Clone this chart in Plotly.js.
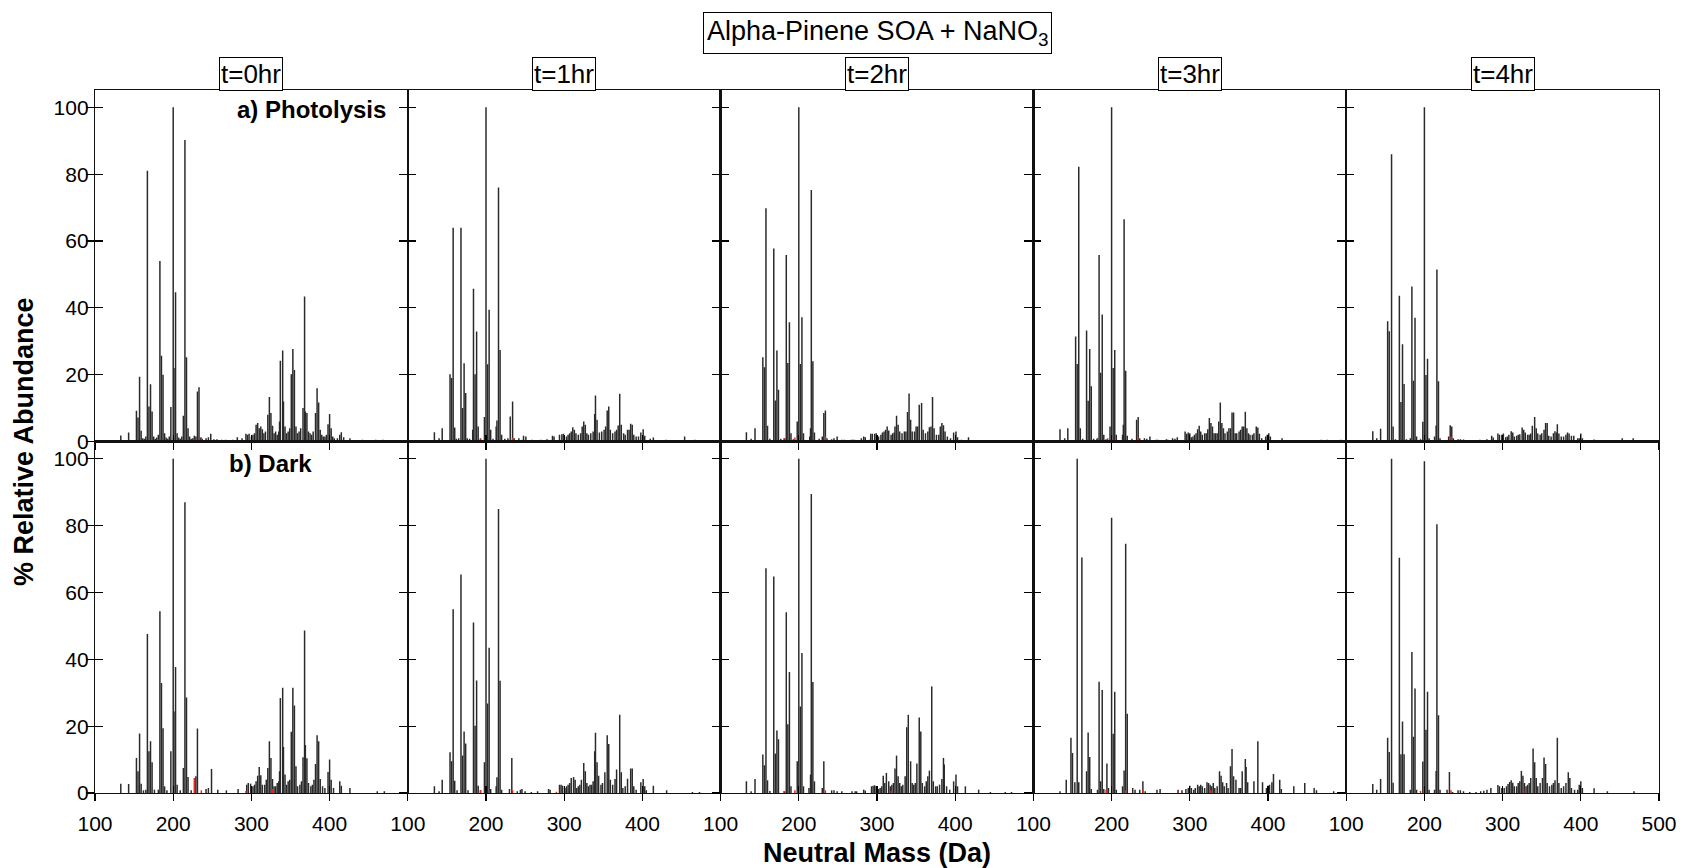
<!DOCTYPE html>
<html><head><meta charset="utf-8">
<script src="https://cdn.plot.ly/plotly-3.0.1.min.js"></script>
<style>html,body{margin:0;padding:0;background:#fff}#chart{width:1681px;height:868px}</style>
</head><body><div id="chart"></div>
<script>
const chartTitle = 'Alpha-Pinene SOA + NaNO<sub>3</sub>';
const timeLabels = ['t=0hr','t=1hr','t=2hr','t=3hr','t=4hr'];
const rowLabels = ['a) Photolysis','b) Dark'];
const xTitle = 'Neutral Mass (Da)';
const yTitle = '% Relative Abundance';
const yTickVals = [0,20,40,60,80,100];

// [neutral mass (Da), % relative abundance]
const photolysis_t0 = [[133,1.8],[143,2.7],[153,9.2],[155,7.2],[157,19.4],[159,3.2],[161,1],[163,0.8],[165,1.5],[167,81],[169,10.5],[171,17.1],[173,9],[175,1.5],[177,0.8],[179,1.2],[181,2],[183,54],[185,25.7],[187,20],[189,2.5],[191,1.2],[193,0.8],[195,1.5],[197,10.3],[200,100],[201,22],[203,44.7],[205,2.5],[207,1.2],[209,0.8],[211,1.5],[213,7.7],[215,90.2],[217,25.2],[219,4],[221,1.5],[223,0.8],[225,1],[227,1.7],[229,1.5],[231,15],[233,16.2],[235,1.2],[237,0.8],[242,1],[245,1.3],[248,2.3],[252,0.7],[256,0.7],[262,0.5],[267,0.5],[276,0.5],[282,1.3],[288,1],[293,2.3],[295,2],[297,2.3],[300,1.5],[302,2],[304,2.5],[306,5],[308,5.5],[310,4],[312,4.5],[314,3.7],[316,2.5],[318,3],[321,8],[323,13.3],[325,8.5],[327,4.7],[329,2.5],[331,3],[333,2],[335,3],[336,6],[337,24.2],[340,27.2],[341,12],[343,4.5],[345,2.5],[347,3],[349,4],[351,20.1],[353,27.7],[355,21.4],[357,4.5],[359,2.5],[361,3],[363,4],[366,10],[368,43.4],[369,9],[371,8.5],[373,3],[375,2.5],[377,2],[379,3],[382,8.5],[384,15.9],[386,11.7],[388,3.5],[390,2],[392,1.5],[394,1.5],[396,2],[398,5.2],[400,8.2],[402,4],[404,1.5],[406,1],[410,1],[413,2],[415,2.8],[418,1.3],[426,1],[442,0.5],[459,0.5],[468,0.5]];
const photolysis_t1 = [[134,2.8],[140,1],[144,4],[154,20.1],[156,19],[158,64],[160,4.2],[162,0.8],[165,1],[168,64],[170,10],[172,23.4],[174,14.5],[176,1],[179,0.8],[183,3.5],[184,45.7],[186,20.1],[188,32.9],[190,4.5],[193,0.8],[198,7.3],[200,100],[202,23.1],[204,39.4],[206,3.5],[209,0.8],[213,4.5],[214,6.3],[216,76],[218,27.4],[220,2],[224,0.8],[228,1],[231,7.5],[234,12],[236,1],[242,1],[248,1.7],[251,1.5],[259,0.5],[270,0.5],[278,0.7],[285,1.7],[287,1.5],[294,2],[297,2.2],[299,2.3],[303,1.5],[305,2],[307,2.5],[309,3],[311,4.3],[313,3.5],[315,2.5],[318,2],[321,2.5],[323,4.5],[325,6],[327,5],[329,2.5],[331,2],[334,2.5],[337,3],[339,8.2],[340,13.8],[342,6.5],[345,2.7],[348,3],[351,3.5],[353,4.5],[355,9.3],[357,10.5],[359,3.5],[362,2.5],[365,3],[367,3.5],[369,4.8],[371,14.3],[373,5],[376,2.5],[378,2],[381,3.5],[383,3.5],[385,5.3],[387,5],[389,2],[392,1.5],[395,1.5],[398,2.7],[401,3.7],[403,1.7],[410,0.8],[414,1.2],[430,0.5],[454,1.5],[467,0.5]];
const photolysis_t2 = [[133,2.8],[139,0.8],[144,4],[154,25.2],[156,22.2],[158,69.8],[160,4.7],[163,0.8],[168,57.8],[170,12.3],[172,27.2],[174,15.5],[177,0.8],[182,1],[184,55.8],[186,23.5],[188,35.7],[190,2.5],[193,0.7],[198,6],[200,100],[202,23.2],[204,37.2],[206,2.5],[214,1.5],[215,4],[216,75.3],[218,24],[220,2.7],[226,0.8],[230,1.5],[232,8.5],[234,9.3],[236,1],[242,0.7],[245,1],[249,1.5],[255,0.5],[258,0.5],[267,0.5],[269,0.5],[271,0.5],[280,1],[283,1.5],[285,1.3],[292,2.3],[294,2.3],[297,2.3],[299,2.5],[302,1.5],[305,2],[307,2.7],[309,3],[311,3.5],[313,4.5],[315,3.3],[318,2],[320,2.5],[322,2.7],[323,4.5],[325,7.7],[327,5],[329,3],[332,2.5],[335,3],[337,3],[339,8.8],[341,14.4],[343,6.5],[345,3],[348,3],[350,4.5],[352,4.5],[354,11],[357,11.5],[359,3.5],[362,2.5],[365,3],[367,4.3],[369,4.5],[371,13.3],[373,4],[376,2],[379,2],[381,4.5],[383,5.5],[385,4.9],[387,3],[390,1.5],[394,1],[398,2.7],[401,3],[403,1.3],[408,0.5],[417,1.3],[435,0.3],[448,0.3],[469,0.3],[476,0.3]];
const photolysis_t3 = [[134,3.7],[140,1],[144,4],[154,31.4],[156,23.2],[158,82.2],[160,4],[163,0.8],[168,33.2],[170,12.2],[172,27.7],[174,16.5],[177,0.8],[182,1],[184,55.8],[186,20.6],[188,38],[190,2],[193,0.7],[198,4.5],[200,100],[202,22],[204,27.4],[206,2],[214,2],[215,5],[216,66.5],[218,21.2],[220,1.7],[226,0.8],[232,6.5],[234,7.3],[236,1],[242,1],[245,0.8],[249,1.5],[257,0.5],[259,0.5],[270,0.7],[272,0.5],[278,1],[281,0.8],[284,1.3],[294,3],[296,2.3],[298,2.7],[300,2.5],[302,1.3],[304,1.5],[306,2],[308,2.5],[310,3.7],[312,4.7],[314,3],[316,2],[319,2.5],[321,2.5],[323,3.7],[325,7],[327,5.5],[329,4.5],[331,2.5],[333,2.5],[335,2.5],[337,6],[339,11.7],[341,5.5],[343,4],[345,2.5],[348,3],[350,4],[352,4],[354,8.7],[356,8.7],[358,2.5],[360,2.5],[363,3],[365,3.5],[367,4.5],[369,4.5],[371,8.9],[373,4],[375,2.5],[377,2],[380,2],[382,2.5],[385,4.5],[387,4.2],[389,2.3],[392,1],[397,1.5],[399,2],[401,2.5],[403,1.5],[418,1],[435,0.3],[452,0.3],[468,0.5],[476,0.5],[493,0.5]];
const photolysis_t4 = [[134,3.1],[139,1],[144,3.8],[153,36],[155,33],[158,86],[160,4.5],[163,0.7],[168,43.6],[170,11.8],[172,29.1],[174,17.2],[177,0.7],[182,1],[184,46.4],[186,18.2],[188,37],[190,1.5],[198,5.9],[200,100],[202,19.9],[204,24.8],[206,1],[213,1.5],[215,4.8],[216,51.5],[218,18],[220,1],[231,1.5],[233,4.9],[235,4.5],[237,1],[243,0.7],[246,0.7],[250,0.6],[258,0.3],[271,0.5],[280,0.7],[286,1.7],[288,1.2],[294,2.4],[296,2],[299,2],[301,2.4],[304,1.3],[306,1.5],[308,2],[311,3.1],[313,2.7],[315,1.5],[318,1.7],[320,2],[322,2.2],[325,4.2],[327,3.5],[329,2.7],[332,2],[334,2],[336,2.4],[338,4.7],[341,7.3],[343,4],[345,2.4],[348,2],[350,2.5],[353,3.5],[355,5.5],[357,5.5],[359,1.7],[362,1.5],[365,2.5],[367,3.1],[369,2.7],[370,5.2],[372,2.4],[375,1.5],[378,1.5],[381,2],[383,2.7],[385,2.4],[388,1.7],[391,1.7],[396,1],[398,1],[400,2.4],[402,1],[417,0.6],[453,1],[467,1]];

const dark_t0 = [[133,2.8],[143,2.7],[153,10.5],[155,6.5],[157,17.8],[159,2.8],[162,0.8],[165,1],[167,47.6],[169,12.5],[171,15.5],[173,9.2],[176,1],[181,1],[183,54.4],[185,32.9],[187,19.4],[189,2],[192,0.8],[197,12.5],[200,100],[201,24.4],[203,37.7],[205,2.5],[209,0.8],[213,7.5],[215,87],[217,28.6],[219,4.8],[223,0.8],[229,5],[231,19.3],[242,1.2],[245,1.5],[249,7.2],[257,1],[268,0.8],[283,1.2],[294,2.5],[296,3],[299,2.8],[302,2],[304,2.5],[306,3.5],[308,5.2],[310,7.8],[312,5.3],[314,2.5],[317,2.5],[319,4],[321,7.5],[323,15.5],[325,10.5],[327,4.2],[329,2],[331,2],[333,3],[335,3.5],[336,6.5],[337,28.4],[340,31.5],[341,13.8],[343,5.5],[345,2.5],[347,3.5],[349,4],[351,18.3],[353,31.5],[355,26.2],[357,8],[359,2],[362,2.5],[364,3.5],[366,10.7],[368,48.6],[369,14.4],[371,10.4],[373,3],[376,2],[378,2.5],[380,4],[382,8.7],[384,17.3],[386,15.5],[388,4.2],[391,2],[394,1.5],[398,6.3],[400,10],[402,4],[405,1.5],[413,3.5],[415,2.2],[426,1.5],[461,0.5],[470,0.5]];
const dark_t1 = [[134,2],[140,0.5],[144,4],[154,12.2],[156,9.5],[158,55],[160,3.7],[163,0.8],[168,65.4],[170,11.2],[172,18.4],[174,14.8],[177,0.8],[184,51],[186,20.1],[188,33.7],[190,2.2],[193,0.8],[198,9.2],[200,100],[202,26.8],[204,43.5],[206,1.2],[213,2],[214,4.7],[216,85],[218,33.6],[220,1],[230,1.2],[233,10.5],[240,0.5],[244,1],[246,1.2],[250,0.5],[258,0.3],[266,0.5],[280,1.2],[282,1],[294,2.5],[296,2.5],[298,2.2],[301,1.5],[303,2],[305,2.5],[307,3],[309,4.5],[312,4.8],[314,4],[316,1.5],[318,2],[320,2.5],[322,4],[325,9],[327,6.5],[329,3],[331,2],[333,2.5],[335,2.5],[337,3.5],[339,12.5],[340,18],[342,9.2],[344,5.2],[347,2.5],[349,3],[352,6.2],[355,17.3],[357,14.7],[359,4],[362,2.5],[365,4.2],[367,7],[371,23.4],[373,6.2],[375,1.5],[378,2],[381,4.3],[385,7.3],[387,7.3],[389,2],[392,1],[398,3.2],[401,4.2],[403,2],[405,0.8],[414,2.2],[431,0.8],[464,0.3],[473,0.3]];
const dark_t2 = [[133,3.5],[139,0.5],[144,4.2],[154,11.5],[156,8.3],[158,67.3],[160,3.8],[163,0.6],[168,64.8],[170,11.8],[172,18.7],[174,16.1],[182,0.5],[184,54.1],[186,20.6],[188,36.2],[190,2],[198,9.5],[200,100],[202,25.9],[204,41.9],[206,2],[213,1.5],[215,5.5],[216,89.5],[218,33.2],[220,3.5],[230,1.5],[232,9.5],[242,0.8],[245,0.8],[249,0.5],[255,0.5],[268,0.5],[272,0.5],[274,0.5],[283,1],[285,0.7],[293,2],[295,2.2],[297,2.3],[299,2],[302,1.2],[304,1.5],[306,2],[308,5.2],[310,3],[312,6],[315,3.5],[317,2],[319,2.5],[321,3],[323,7.3],[325,11.2],[327,5],[329,3],[331,2],[333,2.5],[336,5],[338,19.7],[340,23.4],[343,9.5],[345,3],[347,2.5],[349,3],[351,8.8],[354,22.6],[356,18.4],[358,3],[361,2],[363,3.5],[365,5],[367,6.7],[370,31.9],[372,3.5],[375,2],[377,2],[380,2.5],[383,4.2],[385,10.5],[386,8.5],[389,2],[393,1],[398,3.5],[401,5.5],[403,2],[413,2],[430,1],[445,0.3],[464,0.3],[472,0.3]];
const dark_t3 = [[134,0.5],[142,4],[148,16.5],[150,12],[153,3.2],[156,100],[158,3.2],[162,70.5],[168,6.5],[170,18.1],[172,10.8],[174,1.2],[182,1],[184,33.3],[186,3.5],[188,30.8],[190,1.2],[194,8.8],[196,1.5],[200,82.4],[202,17.7],[204,30.3],[206,1],[214,2],[216,6.7],[218,74.6],[220,23.7],[227,1.5],[230,1],[236,1],[240,3.5],[243,0.5],[258,1],[262,1.2],[285,1],[290,0.8],[295,1.2],[298,1.5],[300,2.2],[302,1.5],[305,1],[307,1.5],[310,2.5],[312,2],[314,2.5],[316,2],[319,1.5],[322,3.2],[324,3],[326,2.5],[328,2],[330,3],[332,1.5],[335,2],[338,6.5],[340,5.2],[342,3.2],[344,2],[347,3],[349,1.5],[352,8],[354,13.2],[356,5],[359,4],[363,1.5],[365,1.5],[367,6.5],[371,10.2],[372,7.8],[374,3.2],[382,3.5],[387,15.5],[393,3.2],[398,1.5],[400,2.2],[402,2.5],[405,3.2],[407,5.7],[415,4],[417,1.2],[433,2],[447,3],[459,1.5],[462,0.8],[484,0.5]];
const dark_t4 = [[134,2.7],[139,1],[144,4.2],[153,16.5],[155,12.3],[158,100],[160,3.1],[168,70.4],[170,11.6],[172,21.4],[174,11.6],[182,1],[184,42.2],[186,16.8],[188,31.3],[190,1],[198,9.4],[200,99.3],[202,18.9],[204,30.3],[206,1],[213,1],[215,6.6],[216,80.4],[218,23.3],[220,1],[229,1],[232,6.3],[236,0.3],[243,0.8],[246,0.8],[250,0.5],[258,0.3],[266,0.3],[272,0.5],[276,0.7],[280,1],[285,1.5],[294,2.4],[296,2],[299,1.5],[302,1.5],[305,2],[307,2.7],[309,3.3],[311,3.8],[313,3.1],[315,2],[318,2],[320,3],[322,3.5],[324,6.6],[326,5.2],[328,3],[330,2],[332,2.5],[334,3],[336,4.5],[339,13.3],[341,9.2],[343,4.5],[345,2],[348,3],[351,4.5],[353,10.6],[355,8.7],[357,3],[360,2],[363,2.5],[365,3],[367,3.8],[370,16.5],[372,3],[375,1.5],[378,2],[381,3],[384,6.2],[386,4.5],[388,1.5],[392,1],[396,1],[398,2.5],[400,3.5],[402,1.5],[417,1.4],[434,0.5],[468,0.5]];

// red (minor series) sticks
const redPhotolysis_t0 = [[181,0.6],[226,0.8],[236,1.2],[293,0.5],[327,0.5]];
const redPhotolysis_t1 = [[193,1],[234,1.2],[246,0.5],[290,0.4]];
const redPhotolysis_t2 = [[181,1],[195,1.2],[234,1.5],[290,0.5]];
const redPhotolysis_t3 = [[181,0.8],[195,1],[234,1.2],[291,0.4]];
const redPhotolysis_t4 = [[195,0.8],[234,1.5],[291,0.4]];
const redDark_t0 = [[227,4.5],[236,0.8],[293,0.6],[327,1.2]];
const redDark_t1 = [[193,0.8],[234,0.8],[290,0.4]];
const redDark_t2 = [[181,0.6],[195,0.8],[234,0.8],[318,0.5]];
const redDark_t3 = [[193,1],[218,0.8],[240,1],[285,0.5],[327,0.8]];
const redDark_t4 = [[195,0.6],[234,0.8],[327,0.8]];

const blackRows = [[photolysis_t0,photolysis_t1,photolysis_t2,photolysis_t3,photolysis_t4],[dark_t0,dark_t1,dark_t2,dark_t3,dark_t4]];
const redRows = [[redPhotolysis_t0,redPhotolysis_t1,redPhotolysis_t2,redPhotolysis_t3,redPhotolysis_t4],[redDark_t0,redDark_t1,redDark_t2,redDark_t3,redDark_t4]];

const FONT = 'Liberation Sans, Arial, Helvetica, sans-serif';
const XR = [100,500], YR = [0,105.2];
const layout = {
  width:1681, height:868,
  margin:{l:95,r:22,t:90,b:75},
  paper_bgcolor:'#fff', plot_bgcolor:'#fff',
  showlegend:false, barmode:'overlay',
  font:{family:FONT,color:'#000',size:20},
  annotations:[]
};
const traces = [];
for (let r=0;r<2;r++){
  for (let c=0;c<5;c++){
    const idx = r*5+c+1;
    const xs = idx===1?'':String(idx), ys = xs;
    const ox = String(idx+10);
    const xd = [c/5,(c+1)/5], yd = r===0?[0.5,1]:[0,0.5];
    const xt = c<4?[100,200,300,400]:[100,200,300,400,500];
    layout['xaxis'+xs] = {domain:xd, anchor:'y'+ys, range:XR, tickvals:xt, ticks:'outside', ticklen:7, tickwidth:1.2, tickcolor:'#000',
      showline:true, linecolor:'#111', linewidth:1.2, mirror:true, showgrid:false, zeroline:false,
      showticklabels:r===1, ticklabelstandoff:5, tickfont:{size:21,family:FONT,color:'#000'}, fixedrange:true};
    layout['yaxis'+ys] = {domain:yd, anchor:'x'+xs, range:YR, tickvals:yTickVals, ticks:'inside', ticklen:8, tickwidth:1.2, tickcolor:'#000',
      showline:true, linecolor:'#111', linewidth:1.2, mirror:true, showgrid:false, zeroline:false,
      showticklabels:c===0, ticklabelstandoff:1, tickfont:{size:21,family:FONT,color:'#000'}, fixedrange:true};
    // other halves of the crossing ticks
    layout['xaxis'+ox] = {domain:xd, anchor:'y'+ys, overlaying:'x'+xs, range:XR, tickvals:xt, ticks:'inside', ticklen:7, tickwidth:1.2, tickcolor:'#000',
      showline:false, showgrid:false, zeroline:false, showticklabels:false, fixedrange:true};
    layout['yaxis'+ox] = {domain:yd, anchor:'x'+xs, overlaying:'y'+ys, side:'left', range:YR, tickvals:yTickVals, ticks:'outside', ticklen:8, tickwidth:1.2, tickcolor:'#000',
      showline:false, showgrid:false, zeroline:false, showticklabels:false, fixedrange:true};
    const blk = blackRows[r][c], red = redRows[r][c];
    traces.push({type:'bar', x:blk.map(d=>d[0]), y:blk.map(d=>d[1]), width:1.9, xaxis:'x'+xs, yaxis:'y'+ys,
      marker:{color:'#2a2a2a', line:{width:0}}, hoverinfo:'skip'});
    traces.push({type:'bar', x:red.map(d=>d[0]), y:red.map(d=>d[1]), width:1.9, xaxis:'x'+xs, yaxis:'y'+ys,
      marker:{color:'#e3261f', line:{width:0}}, hoverinfo:'skip'});
    traces.push({type:'scatter', x:[], y:[], xaxis:'x'+ox, yaxis:'y'+ys, hoverinfo:'skip'});
    traces.push({type:'scatter', x:[], y:[], xaxis:'x'+xs, yaxis:'y'+ox, hoverinfo:'skip'});
    if (r===0){
      layout.annotations.push({text:timeLabels[c], xref:'paper', yref:'paper', x:(c+0.5)/5, y:1, xanchor:'center', yanchor:'bottom', yshift:-1,
        showarrow:false, font:{size:26,family:FONT,color:'#000'}, bgcolor:'#fff', bordercolor:'#000', borderwidth:1, borderpad:1});
    }
  }
}
layout.annotations.push({text:rowLabels[0], xref:'x', yref:'y', x:377, y:99.4, xanchor:'center', yanchor:'middle', showarrow:false,
  font:{size:24,family:FONT,color:'#000',weight:'bold'}});
layout.annotations.push({text:rowLabels[1], xref:'x6', yref:'y6', x:324, y:98.5, xanchor:'center', yanchor:'middle', showarrow:false,
  font:{size:24,family:FONT,color:'#000',weight:'bold'}});
layout.annotations.push({text:chartTitle, xref:'paper', yref:'paper', x:0.5, y:1.0805, xanchor:'center', yanchor:'middle', showarrow:false,
  font:{size:27,family:FONT,color:'#000'}, bgcolor:'#fff', bordercolor:'#000', borderwidth:1, borderpad:3});
layout.annotations.push({text:xTitle, xref:'paper', yref:'paper', x:0.5, y:-0.085, xanchor:'center', yanchor:'middle', showarrow:false,
  font:{size:27,family:FONT,color:'#000',weight:'bold'}});
layout.annotations.push({text:yTitle, xref:'paper', yref:'paper', x:-0.0457, y:0.5, xanchor:'center', yanchor:'middle', textangle:-90, showarrow:false,
  font:{size:27,family:FONT,color:'#000',weight:'bold'}});

Plotly.newPlot('chart', traces, layout, {displayModeBar:false, staticPlot:true});
</script>
</body></html>
